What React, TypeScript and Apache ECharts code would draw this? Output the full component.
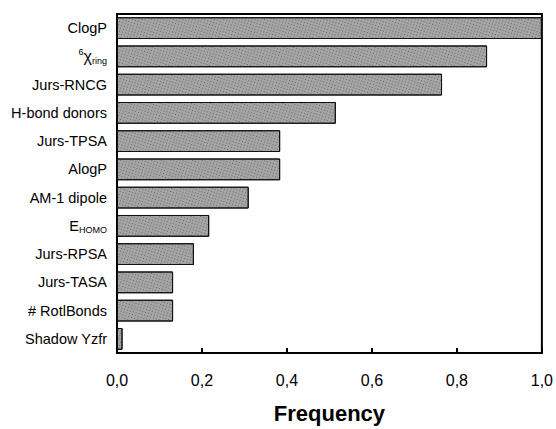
import React, { useEffect, useRef } from "react";
import * as echarts from "echarts";

const categories = [
  "ClogP",
  "chiRing",
  "Jurs-RNCG",
  "H-bond donors",
  "Jurs-TPSA",
  "AlogP",
  "AM-1 dipole",
  "EHOMO",
  "Jurs-RPSA",
  "Jurs-TASA",
  "# RotlBonds",
  "Shadow Yzfr",
];
const frequency = [1.0, 0.871, 0.765, 0.515, 0.384, 0.384, 0.31, 0.217, 0.181, 0.132, 0.132, 0.013];
const xTicks = [0, 0.2, 0.4, 0.6, 0.8, 1.0];

export default function App() {
  const ref = useRef<HTMLDivElement>(null);
  useEffect(() => {
    if (!ref.current) return;
    const chart = echarts.init(ref.current, undefined, { renderer: "svg" });
    const font = "'Liberation Sans', Arial, Helvetica, sans-serif";
    chart.setOption({
      animation: false,
      backgroundColor: "#ffffff",
      textStyle: { fontFamily: font },
      grid: {
        left: 117,
        right: 14,
        top: 14,
        bottom: 71,
        show: true,
        borderColor: "#000",
        borderWidth: 2,
        backgroundColor: "transparent",
      },
      xAxis: {
        type: "value",
        min: xTicks[0],
        max: xTicks[xTicks.length - 1],
        interval: 0.2,
        name: "Frequency",
        nameLocation: "middle",
        nameGap: 60,
        nameTextStyle: {
          fontSize: 22,
          fontWeight: "bold",
          color: "#000",
          fontFamily: font,
          verticalAlign: "middle",
          lineHeight: 22,
        },
        axisLine: { show: true, lineStyle: { color: "#000", width: 2 } },
        axisTick: { show: true, inside: true, length: 5, lineStyle: { color: "#000", width: 2 } },
        splitLine: { show: false },
        axisLabel: {
          color: "#000",
          fontSize: 16,
          margin: 19,
          formatter: (v: number) => v.toFixed(1).replace(".", ","),
        },
      },
      yAxis: {
        type: "category",
        data: categories,
        inverse: true,
        axisLine: { show: true, lineStyle: { color: "#000", width: 2 } },
        axisTick: { show: false },
        splitLine: { show: false },
        axisLabel: {
          color: "#000",
          fontSize: 14.5,
          margin: 10,
          formatter: (v: string) => {
            if (v === "chiRing") return "{sup|6}{chi|χ}{sub|ring}";
            if (v === "EHOMO") return "{base|E}{sub|HOMO}";
            return v;
          },
          rich: {
            sup: { fontSize: 9, verticalAlign: "top", color: "#000", lineHeight: 18, fontFamily: font },
            chi: { fontSize: 16, color: "#000", lineHeight: 18, fontFamily: font },
            base: { fontSize: 14.5, color: "#000", lineHeight: 18, fontFamily: font },
            sub: { fontSize: 9, verticalAlign: "bottom", color: "#000", lineHeight: 18, fontFamily: font },
          },
        },
      },
      series: [
        {
          type: "bar",
          data: frequency,
          barCategoryGap: "23%",
          itemStyle: {
            color: "#a4a4a4",
            borderColor: "#111",
            borderWidth: 1,
            decal: {
              symbol: "rect",
              symbolSize: 1,
              color: "rgba(40,40,40,0.45)",
              dashArrayX: [1, 2],
              dashArrayY: [1, 2],
              rotation: 0.3,
            },
          },
        },
      ],
    });
    return () => chart.dispose();
  }, []);
  return (
    <div
      ref={ref}
      style={{ width: 556, height: 429, position: "absolute", left: 0, top: 0 }}
    />
  );
}
